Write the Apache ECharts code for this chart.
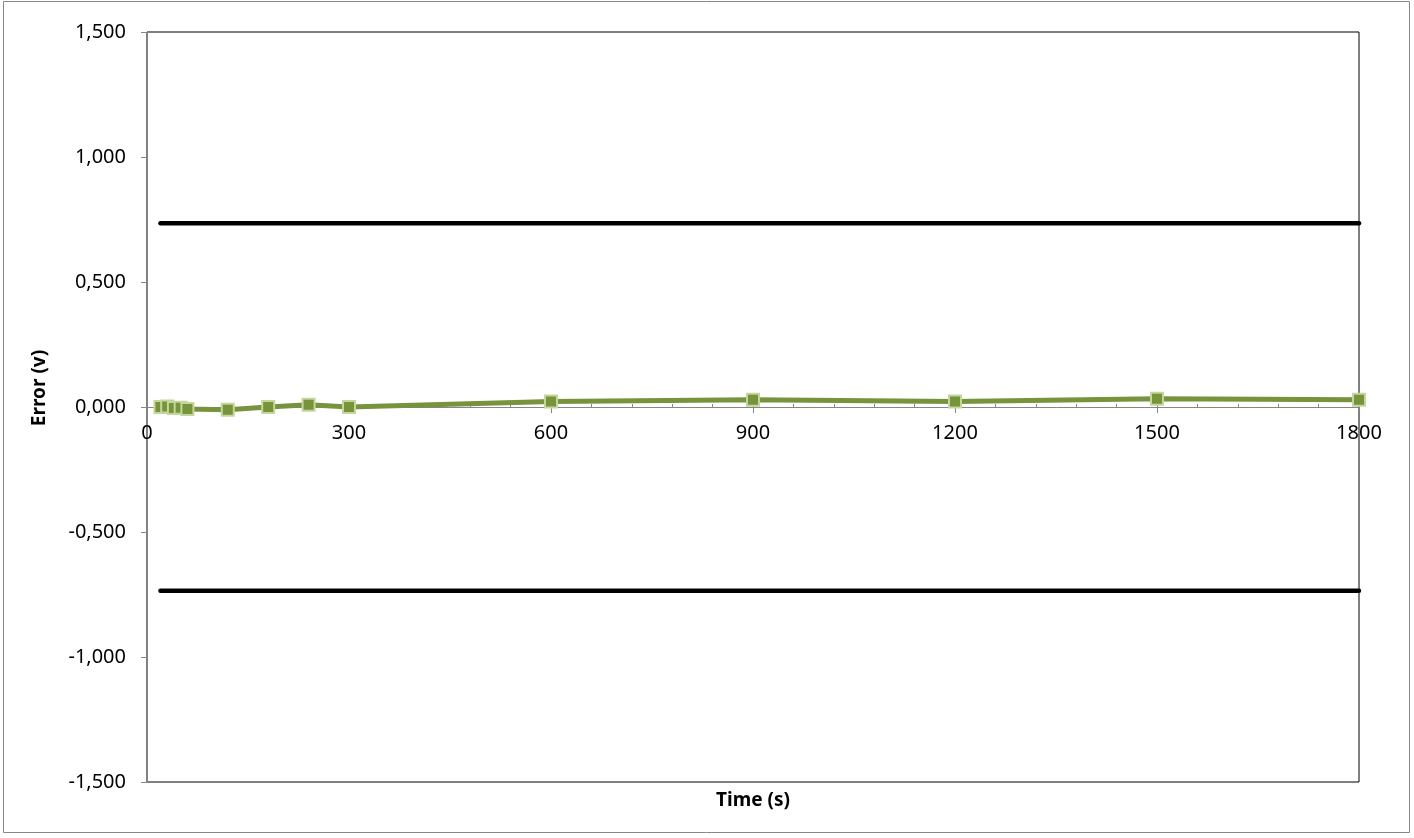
<!DOCTYPE html>
<html>
<head>
<meta charset="utf-8">
<script src="https://cdn.jsdelivr.net/npm/echarts@6/dist/echarts.min.js"></script>
<style>
html,body{margin:0;padding:0;background:#fff;}
#chart{width:1414px;height:838px;}
</style>
</head>
<body>
<div id="chart"></div>
<script>
// Data
const times = [20, 30, 40, 50, 60, 120, 180, 240, 300, 600, 900, 1200, 1500, 1800];
const errors = [0.000, 0.002, -0.004, -0.003, -0.008, -0.011, 0.000, 0.009, 0.000, 0.022, 0.029, 0.022, 0.033, 0.029];
const limitTimes = [20, 1800];
const upperLimit = [0.735, 0.735];
const lowerLimit = [-0.735, -0.735];
const xTicks = [0, 300, 600, 900, 1200, 1500, 1800];
const yTicks = [-1.5, -1.0, -0.5, 0, 0.5, 1.0, 1.5];

const font = '"Noto Sans", "Open Sans", sans-serif';
const pairs = (xs, ys) => xs.map((x, i) => [x, ys[i]]);
const gridBox = {left: 147, right: 55, top: 32, bottom: 56};
const plotH = 838 - gridBox.top - gridBox.bottom;

const chart = echarts.init(document.getElementById('chart'), null, {renderer: 'canvas'});
chart.setOption({
  animation: false,
  backgroundColor: '#fff',
  grid: [
    Object.assign({show: true, borderColor: '#000', borderWidth: 1, backgroundColor: 'transparent'}, gridBox),
    Object.assign({show: false}, gridBox)
  ],
  xAxis: [{
    gridIndex: 0, type: 'value', position: 'bottom', min: xTicks[0], max: xTicks[xTicks.length - 1], interval: 300,
    // axis crosses at y = 0 (the middle of the symmetric -1.5..1.5 range)
    offset: -plotH * (0 - yTicks[0]) / (yTicks[yTicks.length - 1] - yTicks[0]),
    axisLine: {show: true, onZero: false, lineStyle: {color: '#868686', width: 1}},
    axisTick: {show: true, inside: false, length: 6, lineStyle: {color: '#868686'}},
    axisLabel: {margin: 16, color: '#000', fontFamily: font, fontSize: 20, showMinLabel: true, showMaxLabel: true,
      formatter: v => String(v)},
    splitLine: {show: false}
  }, {
    gridIndex: 1, type: 'value', min: 0, max: 1800, interval: 60,
    axisLine: {show: false, onZero: true},
    axisTick: {show: true, inside: true, length: 3, lineStyle: {color: '#868686'}},
    axisLabel: {show: false},
    splitLine: {show: false}
  }],
  yAxis: [{
    gridIndex: 0, type: 'value', min: yTicks[0], max: yTicks[yTicks.length - 1], interval: 0.5,
    axisLine: {show: true, onZero: false, lineStyle: {color: '#868686', width: 1}},
    axisTick: {show: true, inside: false, length: 6, lineStyle: {color: '#868686'}},
    axisLabel: {margin: 21, color: '#000', fontFamily: font, fontSize: 20,
      formatter: v => v.toFixed(3).replace('.', ',')},
    splitLine: {show: false}
  }, {
    gridIndex: 1, type: 'value', min: -1.5, max: 1.5, interval: 0.5, show: false,
    axisLine: {onZero: false}
  }],
  series: [
    {type: 'line', xAxisIndex: 0, yAxisIndex: 0, data: pairs(limitTimes, upperLimit), symbol: 'none',
     lineStyle: {color: '#000', width: 4.5, cap: 'round'}, z: 3},
    {type: 'line', xAxisIndex: 0, yAxisIndex: 0, data: pairs(limitTimes, lowerLimit), symbol: 'none',
     lineStyle: {color: '#000', width: 4.5, cap: 'round'}, z: 3},
    {type: 'line', xAxisIndex: 0, yAxisIndex: 0, data: pairs(times, errors), symbol: 'rect', symbolSize: 12, showAllSymbol: true,
     lineStyle: {color: '#77933C', width: 5},
     itemStyle: {color: '#77933C', borderColor: '#C3D69B', borderWidth: 2}, z: 4}
  ],
  graphic: [
    {type: 'rect', shape: {x: 3.5, y: 1.5, width: 1406, height: 831}, style: {fill: 'none', stroke: '#888', lineWidth: 1}, silent: true},
    {type: 'text', position: [753, 801], style: {text: 'Time (s)', font: 'bold 19px ' + font, fill: '#000', textAlign: 'center', textVerticalAlign: 'middle'}},
    {type: 'text', rotation: Math.PI / 2, position: [40, 388], style: {text: 'Error (v)', font: 'bold 19px ' + font, fill: '#000', textAlign: 'center', textVerticalAlign: 'middle'}}
  ]
});
</script>
</body>
</html>
